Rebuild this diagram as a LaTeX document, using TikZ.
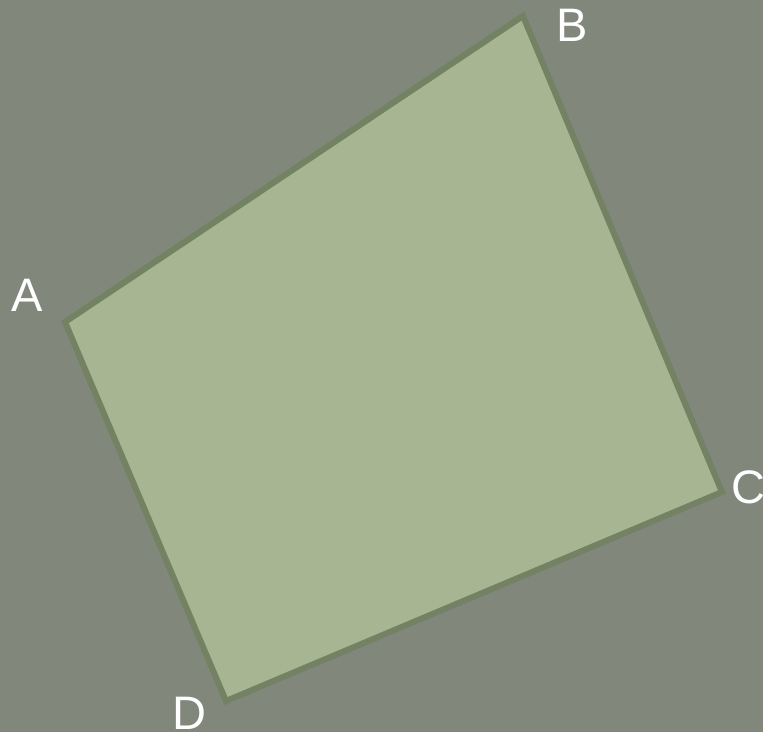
\documentclass[tikz,border=0pt]{standalone}
\usepackage{fontspec}
\setmainfont{Liberation Sans}
\definecolor{bgc}{HTML}{81877B}
\definecolor{quadfill}{HTML}{A7B593}
\definecolor{quadedge}{HTML}{728262}
\tikzset{
  lbl/.style={text=white, inner sep=0pt, font=\fontsize{47}{52}\selectfont},
  quad/.style={line width=6pt, fill=quadfill, draw=quadedge, line join=miter}
}
\begin{document}
\begin{tikzpicture}[x=1pt,y=-1pt]
\useasboundingbox (0,0) rectangle (763,732);
\fill[bgc] (0,0) rectangle (763,732);
\coordinate (A) at (65,322);
\coordinate (B) at (523,16);
\coordinate (C) at (722,492);
\coordinate (D) at (226,701);
\draw[quad] (A) -- (B) -- (C) -- (D) -- cycle;
\node[lbl] (la) at (27.5,295.5) {A};
\node[lbl] (lb) at (572.5,25) {B};
\node[lbl] (lc) at (748,487.5) {C};
\node[lbl] (ld) at (189.5,713) {D};
\end{tikzpicture}
\end{document}
